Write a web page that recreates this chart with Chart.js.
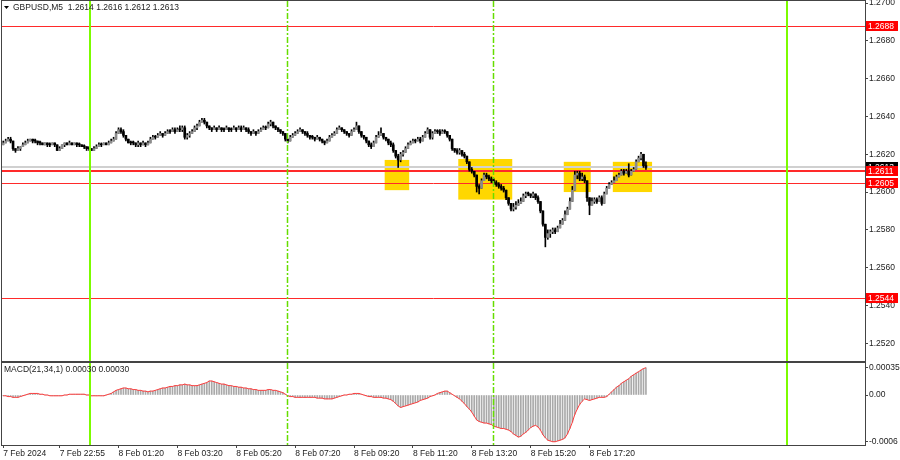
<!DOCTYPE html>
<html>
<head>
<meta charset="utf-8">
<script src="https://cdn.jsdelivr.net/npm/chart.js@4.4.1/dist/chart.umd.min.js"></script>
<style>
  html, body { margin: 0; padding: 0; background: #fff; }
  #wrap { position: relative; width: 900px; height: 460px; overflow: hidden; }
  #mainBox { position: absolute; left: 0; top: 0; width: 900px; height: 362px; }
  #macdBox { position: absolute; left: 0; top: 362px; width: 900px; height: 98px; }
</style>
</head>
<body>
<div id="wrap">
  <div id="mainBox"><canvas id="mainChart"></canvas></div>
  <div id="macdBox"><canvas id="macdChart"></canvas></div>
</div>
<script>
const symbolTitle = 'GBPUSD,M5  1.2614 1.2616 1.2612 1.2613';
const macdTitle = 'MACD(21,34,1) 0.00030 0.00030';

// M5 candles, one entry per bar (open = previous close)
const firstOpen = 1.2625;
const closes = [
  1.2626,1.2627,1.2628,1.2627,1.2623,1.2622,1.2623,1.2624,1.2625,1.2626,
  1.2627,1.2628,1.2627,1.2627,1.2626,1.2626,1.2625,1.2626,1.2625,1.2625,
  1.2626,1.2625,1.2622,1.2623,1.2625,1.2626,1.2625,1.2626,1.2625,1.2626,
  1.2625,1.2625,1.2624,1.2624,1.2623,1.2623,1.2622,1.2623,1.2624,1.2625,
  1.2625,1.2626,1.2625,1.2626,1.2627,1.2628,1.2631,1.2633,1.2632,1.2630,
  1.2628,1.2626,1.2626,1.2626,1.2625,1.2626,1.2625,1.2626,1.2625,1.2626,
  1.2628,1.2629,1.2629,1.2630,1.2631,1.2630,1.2631,1.2632,1.2632,1.2633,
  1.2632,1.2633,1.2633,1.2634,1.2629,1.2630,1.2631,1.2632,1.2634,1.2635,
  1.2637,1.2638,1.2637,1.2635,1.2634,1.2633,1.2634,1.2633,1.2634,1.2633,
  1.2633,1.2634,1.2633,1.2633,1.2634,1.2633,1.2634,1.2633,1.2634,1.2633,
  1.2632,1.2631,1.2632,1.2631,1.2632,1.2633,1.2634,1.2634,1.2636,1.2637,
  1.2635,1.2634,1.2633,1.2632,1.2631,1.2628,1.2627,1.2629,1.2630,1.2631,
  1.2632,1.2633,1.2632,1.2631,1.2630,1.2629,1.2629,1.2628,1.2629,1.2628,
  1.2627,1.2626,1.2627,1.2629,1.2630,1.2631,1.2633,1.2634,1.2633,1.2632,
  1.2631,1.2630,1.2632,1.2633,1.2635,1.2632,1.2630,1.2629,1.2627,1.2625,
  1.2624,1.2626,1.2629,1.2630,1.2631,1.2629,1.2628,1.2626,1.2625,1.2622,
  1.2619,1.2617,1.2620,1.2621,1.2623,1.2625,1.2626,1.2627,1.2627,1.2628,
  1.2627,1.2629,1.2631,1.2633,1.2629,1.2631,1.2632,1.2632,1.2631,1.2632,
  1.2632,1.2630,1.2628,1.2623,1.2622,1.2621,1.2622,1.2620,1.2619,1.2616,
  1.2612,1.2611,1.2609,1.2603,1.2602,1.2606,1.2609,1.2608,1.2607,1.2606,
  1.2605,1.2604,1.2603,1.2602,1.2601,1.2597,1.2594,1.2591,1.2592,1.2593,
  1.2594,1.2595,1.2598,1.2599,1.2599,1.2598,1.2599,1.2597,1.2595,1.2590,
  1.2583,1.2576,1.2578,1.2579,1.2580,1.2579,1.2581,1.2583,1.2585,1.2588,
  1.2591,1.2595,1.2601,1.2609,1.2610,1.2607,1.2608,1.2606,1.2597,1.2593,
  1.2595,1.2596,1.2595,1.2597,1.2594,1.2599,1.2602,1.2604,1.2605,1.2606,
  1.2608,1.2609,1.2611,1.2610,1.2611,1.2609,1.2611,1.2612,1.2616,1.2618,
  1.2620,1.2614,1.2613
];
const highs = [
  1.2627,1.2628,1.2629,1.2629,1.2627,1.2623,1.2624,1.2624,1.2626,1.2627,
  1.2628,1.2628,1.2628,1.2628,1.2627,1.2627,1.2626,1.2626,1.2626,1.2626,
  1.2626,1.2626,1.2625,1.2624,1.2625,1.2626,1.2626,1.2627,1.2626,1.2626,
  1.2626,1.2626,1.2625,1.2625,1.2624,1.2624,1.2623,1.2624,1.2625,1.2626,
  1.2626,1.2626,1.2626,1.2627,1.2628,1.2629,1.2632,1.2634,1.2634,1.2633,
  1.2630,1.2628,1.2627,1.2627,1.2626,1.2627,1.2626,1.2627,1.2626,1.2627,
  1.2629,1.2630,1.2630,1.2631,1.2632,1.2631,1.2632,1.2633,1.2633,1.2634,
  1.2634,1.2634,1.2635,1.2635,1.2635,1.2631,1.2632,1.2633,1.2635,1.2636,
  1.2638,1.2639,1.2639,1.2637,1.2635,1.2634,1.2635,1.2634,1.2635,1.2634,
  1.2634,1.2635,1.2634,1.2634,1.2635,1.2634,1.2635,1.2635,1.2635,1.2634,
  1.2634,1.2632,1.2633,1.2632,1.2633,1.2634,1.2635,1.2635,1.2637,1.2638,
  1.2637,1.2635,1.2634,1.2633,1.2632,1.2631,1.2628,1.2630,1.2631,1.2632,
  1.2633,1.2634,1.2633,1.2632,1.2632,1.2630,1.2630,1.2629,1.2630,1.2629,
  1.2628,1.2627,1.2628,1.2630,1.2631,1.2632,1.2634,1.2635,1.2634,1.2633,
  1.2632,1.2631,1.2633,1.2634,1.2637,1.2635,1.2632,1.2630,1.2629,1.2627,
  1.2626,1.2627,1.2630,1.2632,1.2634,1.2631,1.2629,1.2628,1.2627,1.2626,
  1.2622,1.2620,1.2621,1.2622,1.2624,1.2626,1.2627,1.2628,1.2628,1.2629,
  1.2629,1.2630,1.2632,1.2634,1.2633,1.2632,1.2633,1.2633,1.2633,1.2633,
  1.2633,1.2632,1.2630,1.2628,1.2623,1.2623,1.2623,1.2622,1.2621,1.2619,
  1.2616,1.2613,1.2611,1.2609,1.2604,1.2607,1.2610,1.2610,1.2609,1.2608,
  1.2607,1.2606,1.2605,1.2604,1.2603,1.2601,1.2597,1.2594,1.2594,1.2595,
  1.2596,1.2597,1.2599,1.2600,1.2600,1.2599,1.2600,1.2599,1.2598,1.2595,
  1.2590,1.2583,1.2580,1.2580,1.2581,1.2581,1.2582,1.2585,1.2586,1.2590,
  1.2592,1.2597,1.2603,1.2611,1.2611,1.2611,1.2610,1.2609,1.2606,1.2597,
  1.2597,1.2597,1.2597,1.2598,1.2598,1.2600,1.2603,1.2605,1.2606,1.2608,
  1.2609,1.2610,1.2612,1.2612,1.2612,1.2615,1.2612,1.2613,1.2617,1.2619,
  1.2621,1.2620,1.2616
];
const lows = [
  1.2625,1.2626,1.2627,1.2626,1.2622,1.2621,1.2622,1.2622,1.2624,1.2625,
  1.2626,1.2627,1.2626,1.2626,1.2625,1.2625,1.2625,1.2625,1.2624,1.2624,
  1.2625,1.2624,1.2622,1.2622,1.2623,1.2624,1.2625,1.2625,1.2625,1.2625,
  1.2624,1.2624,1.2624,1.2623,1.2622,1.2622,1.2622,1.2622,1.2623,1.2624,
  1.2624,1.2625,1.2625,1.2625,1.2626,1.2627,1.2628,1.2631,1.2631,1.2629,
  1.2627,1.2626,1.2625,1.2625,1.2624,1.2624,1.2624,1.2625,1.2624,1.2625,
  1.2626,1.2628,1.2628,1.2629,1.2630,1.2629,1.2630,1.2631,1.2631,1.2632,
  1.2631,1.2632,1.2632,1.2632,1.2628,1.2628,1.2629,1.2631,1.2632,1.2633,
  1.2635,1.2637,1.2636,1.2634,1.2633,1.2632,1.2633,1.2632,1.2633,1.2632,
  1.2632,1.2633,1.2632,1.2632,1.2633,1.2632,1.2633,1.2632,1.2633,1.2632,
  1.2631,1.2630,1.2631,1.2630,1.2631,1.2632,1.2633,1.2633,1.2634,1.2635,
  1.2634,1.2633,1.2632,1.2631,1.2630,1.2627,1.2626,1.2627,1.2629,1.2630,
  1.2631,1.2632,1.2631,1.2630,1.2629,1.2628,1.2628,1.2627,1.2628,1.2627,
  1.2626,1.2625,1.2626,1.2627,1.2629,1.2630,1.2631,1.2633,1.2632,1.2631,
  1.2630,1.2629,1.2630,1.2632,1.2633,1.2631,1.2629,1.2628,1.2626,1.2624,
  1.2623,1.2624,1.2626,1.2629,1.2630,1.2628,1.2627,1.2625,1.2624,1.2621,
  1.2618,1.2613,1.2616,1.2619,1.2621,1.2623,1.2625,1.2626,1.2626,1.2627,
  1.2626,1.2627,1.2629,1.2631,1.2628,1.2628,1.2631,1.2631,1.2630,1.2631,
  1.2631,1.2629,1.2627,1.2622,1.2621,1.2620,1.2620,1.2619,1.2618,1.2615,
  1.2611,1.2610,1.2608,1.2600,1.2599,1.2602,1.2606,1.2607,1.2606,1.2605,
  1.2604,1.2603,1.2602,1.2601,1.2600,1.2596,1.2593,1.2590,1.2590,1.2591,
  1.2593,1.2594,1.2596,1.2597,1.2598,1.2597,1.2597,1.2596,1.2594,1.2589,
  1.2582,1.2571,1.2575,1.2576,1.2578,1.2578,1.2579,1.2581,1.2583,1.2586,
  1.2589,1.2592,1.2595,1.2601,1.2607,1.2606,1.2606,1.2605,1.2595,1.2588,
  1.2593,1.2594,1.2594,1.2595,1.2593,1.2594,1.2599,1.2602,1.2604,1.2605,
  1.2606,1.2608,1.2609,1.2609,1.2610,1.2608,1.2609,1.2611,1.2612,1.2616,
  1.2617,1.2613,1.2612
];

// MACD(21,34,1) per bar, in units of 0.00001 (signal = main with period 1)
const macdValues = [
  -1,-1,-2,-2,-3,-3,-3,-2,-1,0,
  1,2,2,2,2,1,1,0,0,-1,
  -1,-1,-1,-1,-1,0,0,1,1,1,
  1,1,1,1,0,0,-1,-1,-1,-1,
  -1,-1,0,1,2,4,6,7,8,9,
  9,8,8,7,7,6,6,5,5,4,
  5,5,6,7,8,9,9,10,11,11,
  12,12,13,13,14,13,13,12,12,12,
  13,14,15,16,18,18,17,16,15,14,
  14,13,12,12,11,11,10,10,9,9,
  8,8,7,7,6,6,6,6,7,7,
  6,6,5,4,3,1,-1,-2,-2,-3,
  -3,-3,-3,-3,-3,-3,-3,-3,-4,-4,
  -4,-5,-5,-5,-5,-4,-3,-2,-1,0,
  0,1,1,2,2,2,1,0,-1,-2,
  -2,-3,-3,-3,-3,-4,-4,-5,-6,-8,
  -11,-14,-16,-15,-14,-13,-12,-11,-10,-9,
  -7,-6,-5,-4,-2,-1,0,2,3,4,
  5,5,3,1,-1,-3,-5,-8,-11,-15,
  -18,-22,-27,-32,-34,-35,-36,-36,-37,-38,
  -40,-41,-42,-43,-43,-44,-45,-47,-50,-52,
  -54,-53,-50,-48,-45,-42,-40,-39,-41,-45,
  -51,-55,-58,-59,-60,-60,-59,-58,-57,-55,
  -50,-43,-35,-25,-18,-12,-8,-5,-6,-7,
  -6,-5,-4,-3,-3,-3,-2,1,4,7,
  10,12,15,17,19,21,24,26,28,30,
  32,34,35
];

const timeLabels = ['7 Feb 2024', '7 Feb 22:55', '8 Feb 01:20', '8 Feb 03:20', '8 Feb 05:20',
  '8 Feb 07:20', '8 Feb 09:20', '8 Feb 11:20', '8 Feb 13:20', '8 Feb 15:20', '8 Feb 17:20'];
const timeTickBars = [0, 23, 47, 71, 95, 119, 143, 167, 191, 215, 239];
const priceTicks = [1.2700, 1.2680, 1.2660, 1.2640, 1.2620, 1.2600, 1.2580, 1.2560, 1.2540, 1.2520];
const macdTicks = [0.00035, 0, -0.0006];
const macdTickLabels = ['0.00035', '0.00', '-0.0006'];

// chart objects
const levelPrices = [1.2688, 1.2611, 1.2605, 1.2544];
const levelWidths = [1, 2, 1, 1];
const bidPrice = 1.2613;
const sessionBars = [35.5, 115.5, 199.5, 319.5];
const sessionDashed = [false, true, true, false];
const zoneFrom = [155.5, 185.5, 228.5, 248.5];
const zoneTo = [165.5, 207.5, 239.5, 264.5];
const zoneLow = [1.2601, 1.2596, 1.2600, 1.2600];
const zoneHigh = [1.2617, 1.26175, 1.2616, 1.2616];

Chart.defaults.font.family = "'Liberation Sans', Arial, sans-serif";
Chart.defaults.font.size = 8.5;
Chart.defaults.color = '#222';

const X_MIN = -0.5, X_MAX = 351.3;
const FRAME = '#444';
const GREEN = '#7cfc00';
const GREEN_DASH = '#66dd00';
const RED = '#ff2a2a';

const opens = closes.map((c, i) => i === 0 ? firstOpen : closes[i - 1]);
const wickData = closes.map((c, i) => ({
  x: i,
  y: [Math.min(lows[i], opens[i], c), Math.max(highs[i], opens[i], c)]
}));
const bodyData = closes.map((c, i) => ({ x: i, y: [opens[i], c] }));
const bodyColors = closes.map((c, i) => c > opens[i] ? '#8c8c8c' : '#000');

// keep the plot area exactly where the layout padding puts it
function noPad(s) {
  s.paddingTop = 0; s.paddingBottom = 0; s.paddingLeft = 0; s.paddingRight = 0;
}

function drawSessions(chart) {
  const { ctx, chartArea: a, scales: { x } } = chart;
  ctx.save();
  sessionBars.forEach((b, k) => {
    const px = Math.round(x.getPixelForValue(b));
    const dashed = sessionDashed[k];
    ctx.strokeStyle = dashed ? GREEN_DASH : GREEN;
    ctx.lineWidth = dashed ? 1.5 : 2;
    ctx.setLineDash(dashed ? [6, 2, 2, 2] : []);
    ctx.beginPath();
    ctx.moveTo(dashed ? px + 0.5 : px, a.top);
    ctx.lineTo(dashed ? px + 0.5 : px, a.bottom);
    ctx.stroke();
  });
  ctx.restore();
}

function drawFrame(chart) {
  const { ctx, chartArea: a } = chart;
  ctx.save();
  ctx.strokeStyle = FRAME;
  ctx.lineWidth = 1;
  ctx.strokeRect(a.left - 0.5, a.top - 0.5, a.right - a.left + 1, a.bottom - a.top + 1);
  ctx.restore();
}

function axisTag(ctx, a, py, text, bg) {
  ctx.fillStyle = bg;
  ctx.fillRect(a.right + 1, py - 5, 32, 10);
  ctx.fillStyle = '#fff';
  ctx.textBaseline = 'middle';
  ctx.textAlign = 'left';
  ctx.fillText(text, a.right + 3, py + 0.5);
}

const mainOverlay = {
  id: 'mainOverlay',
  beforeDatasetsDraw(chart) {
    const { ctx, chartArea: a, scales: { x, y } } = chart;
    ctx.save();
    ctx.beginPath();
    ctx.rect(a.left, a.top, a.right - a.left, a.bottom - a.top);
    ctx.clip();
    ctx.fillStyle = '#ffd700';
    zoneFrom.forEach((f, k) => {
      const x0 = x.getPixelForValue(f), x1 = x.getPixelForValue(zoneTo[k]);
      const y0 = y.getPixelForValue(zoneHigh[k]), y1 = y.getPixelForValue(zoneLow[k]);
      ctx.fillRect(x0, y0, x1 - x0, y1 - y0);
    });
    const by = Math.round(y.getPixelForValue(bidPrice));
    ctx.strokeStyle = '#d0d0d0';
    ctx.lineWidth = 2;
    ctx.beginPath(); ctx.moveTo(a.left, by); ctx.lineTo(a.right, by); ctx.stroke();
    ctx.strokeStyle = RED;
    levelPrices.forEach((p, k) => {
      const py = Math.round(y.getPixelForValue(p));
      ctx.lineWidth = levelWidths[k];
      const off = levelWidths[k] === 1 ? 0.5 : 0;
      ctx.beginPath(); ctx.moveTo(a.left, py + off); ctx.lineTo(a.right, py + off); ctx.stroke();
    });
    ctx.restore();
  },
  afterDatasetsDraw(chart) {
    drawSessions(chart);
  },
  afterDraw(chart) {
    const { ctx, chartArea: a, scales: { y } } = chart;
    drawFrame(chart);
    ctx.save();
    ctx.font = "8.5px 'Liberation Sans', Arial, sans-serif";
    axisTag(ctx, a, Math.round(y.getPixelForValue(bidPrice)), bidPrice.toFixed(4), '#000');
    levelPrices.forEach(p => axisTag(ctx, a, Math.round(y.getPixelForValue(p)), p.toFixed(4), '#ff0000'));
    // symbol caption with the small triangle
    ctx.fillStyle = '#000';
    ctx.beginPath();
    ctx.moveTo(a.left + 2, a.top + 5); ctx.lineTo(a.left + 7, a.top + 5); ctx.lineTo(a.left + 4.5, a.top + 8);
    ctx.closePath(); ctx.fill();
    ctx.fillStyle = '#222';
    ctx.textBaseline = 'middle';
    ctx.textAlign = 'left';
    ctx.fillText(symbolTitle, a.left + 11, a.top + 7);
    ctx.restore();
  }
};

const macdOverlay = {
  id: 'macdOverlay',
  afterDatasetsDraw(chart) {
    drawSessions(chart);
  },
  afterDraw(chart) {
    const { ctx, chartArea: a } = chart;
    drawFrame(chart);
    ctx.save();
    ctx.font = "8.5px 'Liberation Sans', Arial, sans-serif";
    ctx.fillStyle = '#222';
    ctx.textBaseline = 'middle';
    ctx.textAlign = 'left';
    ctx.fillText(macdTitle, a.left + 2, a.top + 7);
    ctx.restore();
  }
};

new Chart(document.getElementById('mainChart'), {
  type: 'bar',
  data: {
    datasets: [
      { data: wickData, backgroundColor: '#000', barThickness: 1, grouped: false, order: 2 },
      { data: bodyData, backgroundColor: bodyColors, barThickness: 2, minBarLength: 1,
        borderSkipped: false, grouped: false, order: 1 }
    ]
  },
  options: {
    responsive: true,
    maintainAspectRatio: false,
    animation: false,
    events: [],
    layout: { padding: { left: 2, top: 1, right: 0, bottom: 1 } },
    plugins: { legend: { display: false }, tooltip: { enabled: false } },
    scales: {
      x: { type: 'linear', min: X_MIN, max: X_MAX, offset: false, display: false },
      y: {
        position: 'right',
        min: 1.25106,
        max: 1.27011,
        afterBuildTicks: s => { s.ticks = priceTicks.map(v => ({ value: v })); },
        afterFit: s => { s.width = 35; noPad(s); },
        ticks: { callback: v => v.toFixed(4), padding: 1, color: '#222' },
        grid: { drawOnChartArea: false, drawTicks: true, tickLength: 3, color: FRAME },
        border: { display: false }
      }
    }
  },
  plugins: [mainOverlay]
});

new Chart(document.getElementById('macdChart'), {
  type: 'bar',
  data: {
    datasets: [
      { type: 'line', data: macdValues.map((v, i) => ({ x: i, y: v * 1e-5 })),
        borderColor: '#ff3b3b', borderWidth: 1, pointRadius: 0, tension: 0, order: 0 },
      { data: macdValues.map((v, i) => ({ x: i, y: v * 1e-5 })),
        backgroundColor: '#a9a9a9', barThickness: 1, order: 1 }
    ]
  },
  options: {
    responsive: true,
    maintainAspectRatio: false,
    animation: false,
    events: [],
    layout: { padding: { left: 2, top: 1, right: 0, bottom: 0 } },
    plugins: { legend: { display: false }, tooltip: { enabled: false } },
    scales: {
      x: {
        type: 'linear', min: X_MIN, max: X_MAX, offset: false,
        afterBuildTicks: s => { s.ticks = timeTickBars.map(v => ({ value: v })); },
        afterFit: s => { s.height = 15; noPad(s); },
        ticks: { callback: (v, i) => timeLabels[i], align: 'start', autoSkip: false,
          maxRotation: 0, padding: 1, color: '#222' },
        grid: { drawOnChartArea: false, drawTicks: true, tickLength: 3, color: FRAME, offset: false },
        border: { display: false }
      },
      y: {
        position: 'right',
        min: -0.000642,
        max: 0.000411,
        afterBuildTicks: s => { s.ticks = macdTicks.map(v => ({ value: v })); },
        afterFit: s => { s.width = 35; noPad(s); },
        ticks: { callback: (v, i) => macdTickLabels[i], padding: 1, color: '#222' },
        grid: { drawOnChartArea: false, drawTicks: true, tickLength: 3, color: FRAME },
        border: { display: false }
      }
    }
  },
  plugins: [macdOverlay]
});
</script>
</body>
</html>
